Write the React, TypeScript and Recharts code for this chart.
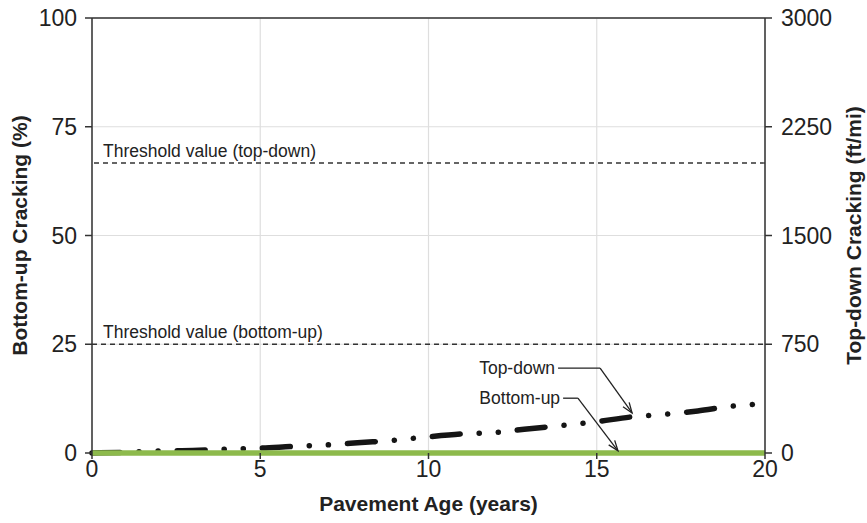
import { LineChart, Line, XAxis, YAxis, CartesianGrid, ReferenceLine } from 'recharts'

const FONT = '"Liberation Sans", Arial, Helvetica, sans-serif'

// pavement age in years
const ages = [0, 1, 2, 3, 4, 5, 6, 7, 8, 9, 10, 11, 12, 13, 14, 15, 16, 17, 18, 19, 20]
// bottom-up fatigue cracking (%)
const bottomUp = [0, 0, 0, 0, 0, 0, 0, 0, 0, 0, 0, 0, 0, 0, 0, 0, 0, 0, 0, 0, 0]
// top-down cracking (ft/mi)
const topDown = [0, 5, 14, 17, 26, 33, 46, 56, 72, 88, 112, 132, 142, 168, 190, 216, 248, 266, 290, 322, 340]

const xTicks = [0, 5, 10, 15, 20]
const leftTicks = [0, 25, 50, 75, 100]
const rightTicks = [0, 750, 1500, 2250, 3000]

const bottomUpLimit = 25
const topDownLimit = 2000

// callouts: [text, text end, bend, arrow tip] in (years, %)
const callouts: Array<{ text: string; start: [number, number]; bend: [number, number]; tip: [number, number] }> = [
  { text: 'Top-down', start: [13.85, 19.5], bend: [15.1, 19.5], tip: [16.05, 9.2] },
  { text: 'Bottom-up', start: [14.0, 12.6], bend: [14.44, 12.6], tip: [15.63, 0.5] },
]

const data = ages.map((age, i) => ({ age, bottomUp: bottomUp[i], topDown: topDown[i] }))

const thresholdLabel = (text: string) => (props: any) => {
  const vb = props.viewBox
  return (
    <text x={vb.x + 11} y={vb.y - 6} fontSize={17.5} fill="#222" fontFamily={FONT}>
      {text}
    </text>
  )
}

const leaderShape = (text: string) => (p: any) => (
  <g>
    <line x1={p.x1} y1={p.y1} x2={p.x2} y2={p.y2} stroke="#222" strokeWidth={1.3} />
    <text x={p.x1 - 3} y={p.y1} dy="0.35em" textAnchor="end" fontSize={17.5} fill="#222" fontFamily={FONT}>
      {text}
    </text>
  </g>
)

const arrowShape = (p: any) => {
  const ang = Math.atan2(p.y2 - p.y1, p.x2 - p.x1)
  const len = 11
  const spread = 0.35
  const a1 = { x: p.x2 - len * Math.cos(ang - spread), y: p.y2 - len * Math.sin(ang - spread) }
  const a2 = { x: p.x2 - len * Math.cos(ang + spread), y: p.y2 - len * Math.sin(ang + spread) }
  return (
    <g stroke="#222" strokeWidth={1.3} fill="none">
      <line x1={p.x1} y1={p.y1} x2={p.x2} y2={p.y2} />
      <polyline points={`${a1.x},${a1.y} ${p.x2},${p.y2} ${a2.x},${a2.y}`} />
    </g>
  )
}

const leftTitle = (props: any) => {
  const vb = props.viewBox
  const cx = vb.x + 20
  const cy = vb.y + vb.height / 2
  return (
    <text x={cx} y={cy} transform={`rotate(-90, ${cx}, ${cy})`} textAnchor="middle" dy="0.35em"
      fontSize={21} fontWeight="bold" fill="#222" fontFamily={FONT}>
      Bottom-up Cracking (%)
    </text>
  )
}

const rightTitle = (props: any) => {
  const vb = props.viewBox
  const cx = vb.x + vb.width - 13
  const cy = vb.y + vb.height / 2
  return (
    <text x={cx} y={cy} transform={`rotate(-90, ${cx}, ${cy})`} textAnchor="middle" dy="0.35em"
      fontSize={21} fontWeight="bold" fill="#222" fontFamily={FONT}>
      Top-down Cracking (ft/mi)
    </text>
  )
}

const bottomTitle = (props: any) => {
  const vb = props.viewBox
  return (
    <text x={vb.x + vb.width / 2} y={vb.y + 51} dy="0.35em" textAnchor="middle"
      fontSize={21} fontWeight="bold" fill="#222" fontFamily={FONT}>
      Pavement Age (years)
    </text>
  )
}

export default function App() {
  const tickStyle = { fontSize: 23, fill: '#222', fontFamily: FONT }
  return (
    <div style={{ position: 'absolute', left: 0, top: 0, background: '#fff' }}>
      <LineChart width={867} height={523} data={data} margin={{ top: 18, right: 0, bottom: 0, left: 0 }}>
        <CartesianGrid yAxisId="left" stroke="#dedede" strokeWidth={1.2} />
        <XAxis
          dataKey="age"
          type="number"
          domain={[0, 20]}
          ticks={xTicks}
          height={70}
          axisLine={false}
          tickLine={{ stroke: '#333', strokeWidth: 1.5 }}
          tickSize={6}
          tickMargin={2}
          tick={tickStyle}
          label={{ content: bottomTitle }}
        />
        <YAxis
          yAxisId="left"
          domain={[0, 100]}
          ticks={leftTicks}
          width={92}
          stroke="#333"
          strokeWidth={1.5}
          tickSize={7}
          tickMargin={8}
          tick={tickStyle}
          label={{ content: leftTitle }}
        />
        <YAxis
          yAxisId="right"
          orientation="right"
          domain={[0, 3000]}
          ticks={rightTicks}
          width={102}
          stroke="#333"
          strokeWidth={1.5}
          tickSize={7}
          tickMargin={9}
          tick={tickStyle}
          label={{ content: rightTitle }}
        />
        <ReferenceLine yAxisId="left" y={100} stroke="#333" strokeWidth={1.5} />
        <ReferenceLine
          yAxisId="right"
          y={topDownLimit}
          stroke="#333"
          strokeWidth={1.3}
          strokeDasharray="5 4"
          label={{ content: thresholdLabel('Threshold value (top-down)') }}
        />
        <ReferenceLine
          yAxisId="left"
          y={bottomUpLimit}
          stroke="#333"
          strokeWidth={1.3}
          strokeDasharray="5 4"
          label={{ content: thresholdLabel('Threshold value (bottom-up)') }}
        />
        <Line
          yAxisId="right"
          dataKey="topDown"
          stroke="#151515"
          strokeWidth={5.5}
          strokeLinecap="round"
          strokeDasharray="28 19 0.1 19 0.1 19"
          dot={false}
          type="monotone"
          isAnimationActive={false}
        />
        <Line
          yAxisId="left"
          dataKey="bottomUp"
          stroke="#8dba4c"
          strokeWidth={5.5}
          dot={false}
          isAnimationActive={false}
        />
        {callouts.map((c) => (
          <ReferenceLine
            key={c.text + '-leader'}
            yAxisId="left"
            segment={[{ x: c.start[0], y: c.start[1] }, { x: c.bend[0], y: c.bend[1] }]}
            shape={leaderShape(c.text)}
          />
        ))}
        {callouts.map((c) => (
          <ReferenceLine
            key={c.text + '-arrow'}
            yAxisId="left"
            segment={[{ x: c.bend[0], y: c.bend[1] }, { x: c.tip[0], y: c.tip[1] }]}
            shape={arrowShape}
          />
        ))}
      </LineChart>
    </div>
  )
}
